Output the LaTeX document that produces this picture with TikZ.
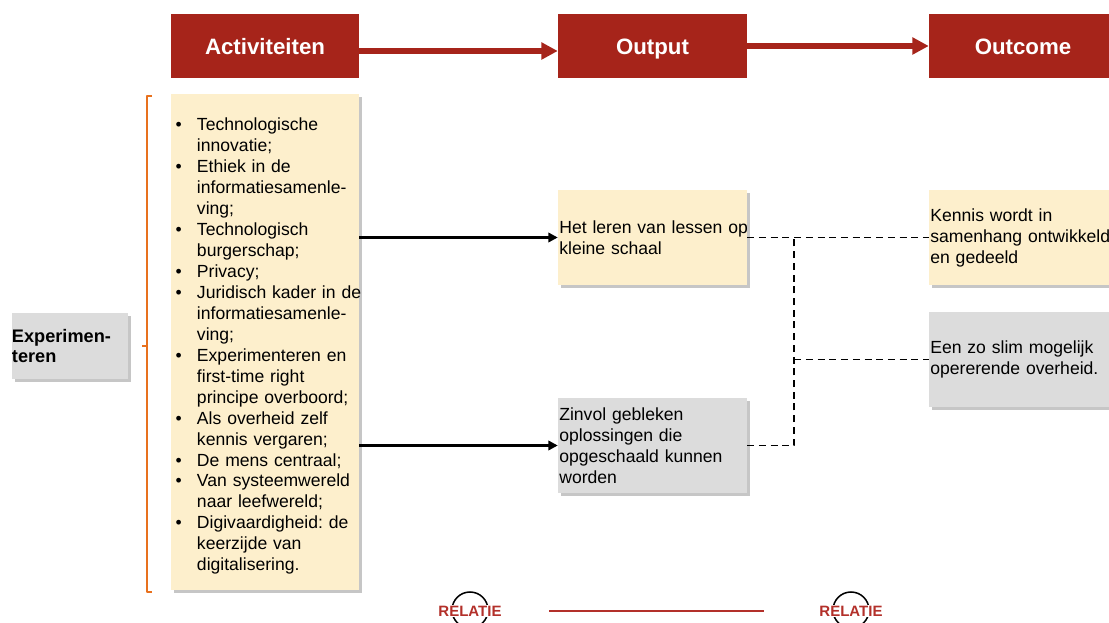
\documentclass[tikz,border=0pt]{standalone}
\usepackage{fontspec}
\setmainfont{Liberation Sans}
\usetikzlibrary{arrows.meta,shadows}
\definecolor{hdrred}{HTML}{A6241A}
\definecolor{boxcream}{HTML}{FDEFCC}
\definecolor{boxgrey}{HTML}{DCDCDC}
\definecolor{braceorange}{HTML}{E8711E}
\definecolor{relred}{HTML}{B3302A}
\newcommand{\bodysize}{\fontsize{15pt}{17.9pt}\selectfont}
\newcommand{\actitem}[1]{\par\hangindent=0.74cm\hangafter=1\noindent\makebox[0.74cm][l]{\hspace{0.1cm}\textbullet}#1}
\begin{document}
\begin{tikzpicture}[x=0.03cm,y=-0.03cm,line join=round,
  hdrbox/.style={fill=hdrred,text=white,font=\bfseries\fontsize{19pt}{22pt}\selectfont,minimum height=1.92cm,inner sep=0pt,text height=13.7pt,text depth=0pt},
  shadowed/.style={drop shadow={shadow xshift=0.09cm,shadow yshift=-0.1cm,fill=black!50,opacity=0.45}},
  creambox/.style={fill=boxcream,shadowed,font=\bodysize,align=left,inner xsep=0.04cm,inner ysep=0pt},
  greybox/.style={fill=boxgrey,shadowed,font=\bodysize,align=left,inner xsep=0.04cm,inner ysep=0pt},
  redarrow/.style={draw=hdrred,line width=4.3pt,-{Triangle[length=14pt,width=14pt]}},
  blackarrow/.style={line width=2.1pt,-{Triangle[length=8pt,width=8pt]}},
  dashline/.style={line width=1.7pt,dash pattern=on 6pt off 4pt},
  relatie/.style={fill=white,text=relred,font=\bfseries\fontsize{12.8pt}{14pt}\selectfont,inner sep=0.5pt}]
  \useasboundingbox (0,0) rectangle (1109,623);
  \node[hdrbox,minimum width=5.64cm] (acth) at (265,46) {Activiteiten};
  \node[hdrbox,minimum width=5.67cm] (outh) at (652.5,46) {Output};
  \node[hdrbox,minimum width=5.64cm] (occh) at (1023,46) {Outcome};
  \draw[redarrow] ([yshift=-0.15cm]acth.east) -- ([yshift=-0.15cm]outh.west);
  \draw[redarrow] (outh.east) -- (occh.west);
  \node[creambox,text width=5.56cm,minimum height=14.88cm] (act) at (265,342) {%
    \actitem{Technologische\newline innovatie;}
    \actitem{Ethiek in de\newline informatiesamenle-\newline ving;}
    \actitem{Technologisch\newline burgerschap;}
    \actitem{Privacy;}
    \actitem{Juridisch~kader~in~de\newline informatiesamenle-\newline ving;}
    \actitem{Experimenteren~en\newline first-time right\newline principe~overboord;}
    \actitem{Als overheid zelf\newline kennis vergaren;}
    \actitem{De mens centraal;}
    \actitem{Van~systeemwereld\newline naar leefwereld;}
    \actitem{Digivaardigheid:~de\newline keerzijde van\newline digitalisering.}\par};
  \node[greybox,font=\bfseries\fontsize{15.5pt}{17.9pt}\selectfont,text width=3.48cm,inner xsep=0pt,minimum height=1.98cm] (exp) at (70,346) {Experimen-\\teren};
  \draw[braceorange,line width=1.3pt] (152,96) -- (147,96) -- (147,592) -- (152,592);
  \draw[braceorange,line width=1.3pt] (147,346) -- (142,346);
  \node[creambox,text width=5.59cm,minimum height=2.85cm] (out1) at (652.5,237.5) {Het~leren~van~lessen~op\\kleine schaal};
  \node[greybox,text width=5.59cm,minimum height=2.85cm] (out2) at (652.5,445.5) {Zinvol gebleken\\oplossingen die\\opgeschaald kunnen\\worden};
  \node[creambox,text width=5.56cm,minimum height=2.85cm] (oc1) at (1023,237.5) {Kennis wordt in\\samenhang~ontwikkeld\\en gedeeld};
  \node[greybox,text width=5.56cm,minimum height=2.85cm] (oc2) at (1023,359.5) {Een zo slim mogelijk\\opererende overheid.};
  \draw[blackarrow] (act.east |- out1.west) -- (out1.west);
  \draw[blackarrow] (act.east |- out2.west) -- (out2.west);
  \draw[dashline] (out1.east) -- (oc1.west);
  \draw[dashline] (out2.east) -- ++(47,0) coordinate (jbot) -- (jbot |- oc1.west);
  \draw[dashline] (jbot |- oc2.west) -- (oc2.west);
  \node[circle,draw,line width=1.3pt,minimum size=1.08cm,inner sep=0pt] (ring1) at (470,610) {};
  \node[circle,draw,line width=1.3pt,minimum size=1.08cm,inner sep=0pt] (ring2) at (851,610) {};
  \node[relatie] (rel1) at (470,611) {RELATIE};
  \node[relatie] (rel2) at (851,611) {RELATIE};
  \draw[relred,line width=1.5pt,shorten <=1.41cm,shorten >=1.65cm] (rel1.east) -- (rel2.west);
\end{tikzpicture}
\end{document}
